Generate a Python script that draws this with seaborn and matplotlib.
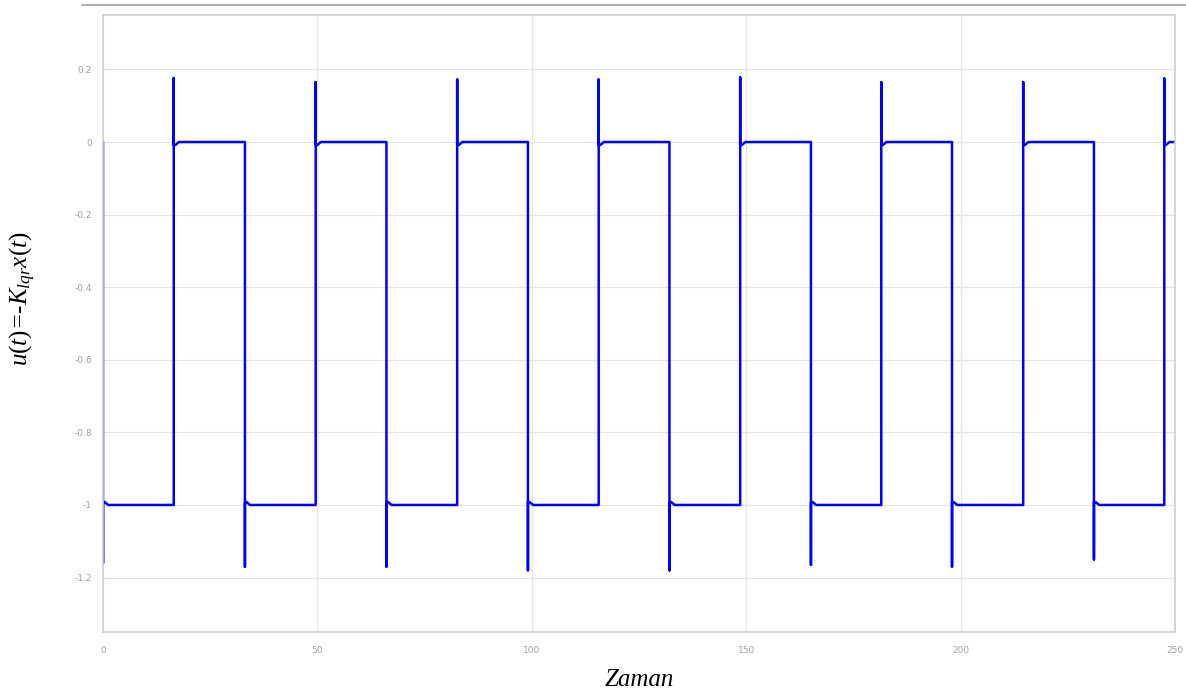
import numpy as np
import pandas as pd
import matplotlib
matplotlib.use("Agg")
import matplotlib.pyplot as plt
import seaborn as sns

# Switching instants of the LQR control signal and the overshoot at each edge
rise_times = [16.5, 49.6, 82.6, 115.6, 148.6, 181.5, 214.6, 247.5]
rise_peaks = [0.176, 0.165, 0.172, 0.172, 0.178, 0.165, 0.165, 0.175]
fall_times = [0.0, 33.1, 66.1, 99.1, 132.1, 165.1, 198.0, 231.1]
fall_troughs = [-1.16, -1.17, -1.17, -1.18, -1.18, -1.165, -1.17, -1.15]

high_level = 0.0
low_level = -1.0
settle_offset = 0.008   # small undershoot right after each edge
settle_time = 1.2       # time to recover from the undershoot
t_end = 250.0

# Assemble the piecewise signal from the edge lists
t_pts, u_pts = [], []
edges = sorted([(t, "fall", v) for t, v in zip(fall_times, fall_troughs)] +
               [(t, "rise", v) for t, v in zip(rise_times, rise_peaks)])
prev_level = high_level
for t, kind, extreme in edges:
    if kind == "fall":
        target = low_level
        t_pts += [t, t, t, t + 0.4, t + settle_time]
        u_pts += [prev_level, extreme, target + settle_offset,
                  target + settle_offset, target]
    else:
        target = high_level
        t_pts += [t, t, t, t, t, t + 0.4, t + settle_time]
        u_pts += [prev_level, extreme, 0.05, 0.0, target - settle_offset,
                  target - settle_offset, target]
    prev_level = target
t_pts.append(t_end)
u_pts.append(prev_level)

df = pd.DataFrame({"Zaman": t_pts, "u": u_pts})

sns.set_style("whitegrid")
plt.rcParams["mathtext.fontset"] = "custom"
plt.rcParams["mathtext.it"] = "Liberation Serif:italic"
plt.rcParams["mathtext.rm"] = "Liberation Serif"

fig = plt.figure(figsize=(11.86, 6.96), dpi=100)
ax = fig.add_axes([103 / 1186, 1 - 632 / 696, (1175 - 103) / 1186, (632 - 15) / 696])

sns.lineplot(data=df, x="Zaman", y="u", sort=False, estimator=None,
             color="#0000ff", linewidth=1.8, ax=ax)

ax.set_xlim(0, 250)
ax.set_ylim(-1.35, 0.35)
ax.set_xticks([0, 50, 100, 150, 200, 250])
ax.set_xticklabels(["0", "50", "100", "150", "200", "250"])
yt = [0.2, 0, -0.2, -0.4, -0.6, -0.8, -1, -1.2]
ax.set_yticks(yt)
ax.set_yticklabels(["0.2", "0", "-0.2", "-0.4", "-0.6", "-0.8", "-1", "-1.2"])

ax.grid(True, color="#e4e4e4", linewidth=0.9)
for s in ax.spines.values():
    s.set_color("#d0d0d0")
    s.set_linewidth(1.2)
ax.tick_params(axis="both", direction="in", length=4, width=0.8,
               color="#c8c8c8", labelsize=6.5, labelcolor="#a0a0a0", pad=8)
ax.tick_params(axis="x", pad=10)

ax.set_xlabel("Zaman", fontfamily="Liberation Serif", fontstyle="italic",
              fontsize=18, color="black")
ax.xaxis.set_label_coords(0.5, -0.06)
ax.set_ylabel(r"$\mathit{u(t)}$=-$\mathit{K_{lqr}x(t)}$",
              fontfamily="Liberation Serif", fontstyle="italic",
              fontsize=18, color="black")
ax.yaxis.set_label_coords(-0.061, 0.54)

# Window frame line above the plot
fig.add_artist(plt.Line2D([82 / 1186, 1.0], [1 - 5 / 696, 1 - 5 / 696],
                          color="#b0b0b0", linewidth=1.5))

fig.savefig("out.png", dpi=100, facecolor="white")
